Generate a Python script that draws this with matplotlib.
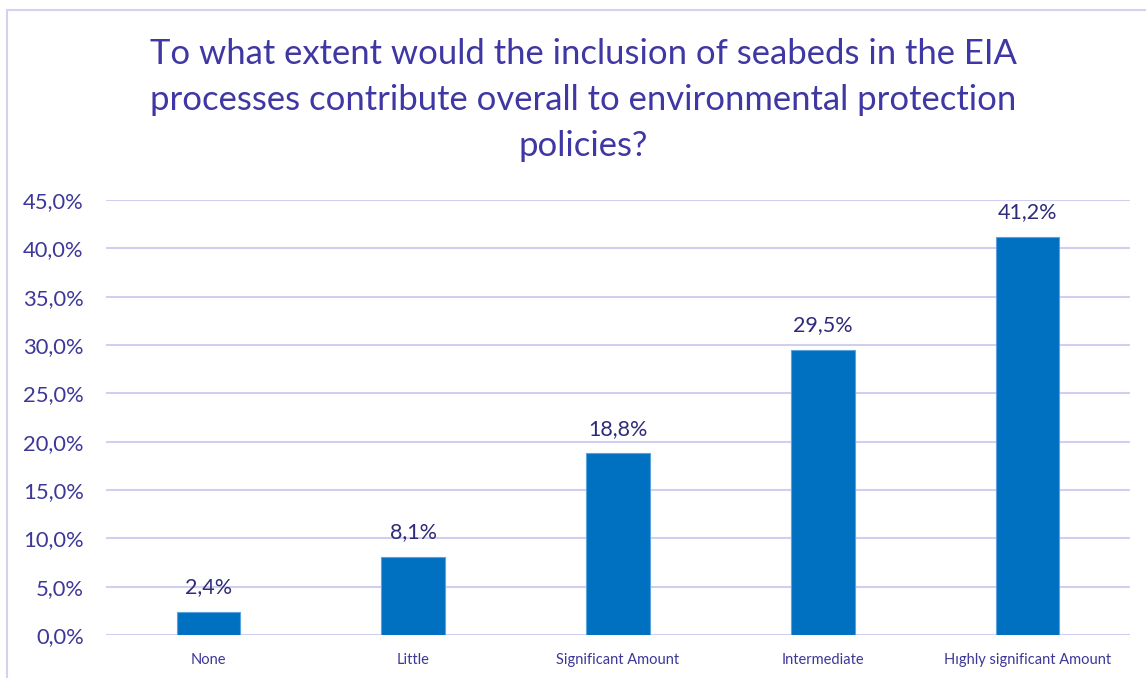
import matplotlib
matplotlib.use("Agg")
import matplotlib.pyplot as plt
from matplotlib.patches import Rectangle

categories = ["None", "Little", "Significant Amount", "Intermediate", "Hıghly significant Amount"]
values = [2.4, 8.1, 18.8, 29.5, 41.2]
yticks = [0, 5, 10, 15, 20, 25, 30, 35, 40, 45]

title = ("To what extent would the inclusion of seabeds in the EIA\n"
         "processes contribute overall to environmental protection\n"
         "policies?")

plt.rcParams["font.family"] = ["Lato", "DejaVu Sans"]

bar_color = "#0070C0"
edge_color = "#5BA3DC"
title_color = "#3F37A3"
tick_color = "#3D3799"
label_color = "#2E2B78"
grid_color = "#D2CEF0"

fig = plt.figure(figsize=(11.46, 6.78), dpi=100)
fig.patch.set_facecolor("white")

# chart frame
fig.patches.append(Rectangle((7 / 1146, -0.05), 1.2, 1 - 10 / 678 + 0.05,
                             transform=fig.transFigure, fill=False,
                             edgecolor="#D4D0F0", linewidth=1.5))

ax = fig.add_axes([106 / 1146, 1 - 635 / 678, 1024 / 1146, 435 / 678])
x = list(range(len(categories)))
bars = ax.bar(x, values, width=0.31, color=bar_color, edgecolor=edge_color,
              linewidth=0.8, zorder=3)

ax.set_xlim(-0.5, len(categories) - 0.5)
ax.set_ylim(0, 45)
ax.set_yticks(yticks)
ax.set_yticklabels([f"{t:.1f}%".replace(".", ",") for t in yticks])
ax.set_xticks(x)
ax.set_xticklabels(categories)

ax.grid(axis="y", color=grid_color, linewidth=1.5, zorder=0)
for s in ax.spines.values():
    s.set_visible(False)
ax.tick_params(axis="both", length=0)
ax.tick_params(axis="y", labelsize=15.8, labelcolor=tick_color, pad=16)
ax.tick_params(axis="x", labelsize=10.5, labelcolor=tick_color, pad=13)

for xi, v in zip(x, values):
    ax.annotate(f"{v:.1f}%".replace(".", ","), (xi, v), xytext=(0, 17.5),
                textcoords="offset points", ha="center", va="center",
                fontsize=15.5, color=label_color, zorder=4)

fig.text(583 / 1146, 1 - 100 / 678, title, ha="center", va="center",
         fontsize=24.9, color=title_color, linespacing=1.52)

fig.savefig("out.png", dpi=100)
